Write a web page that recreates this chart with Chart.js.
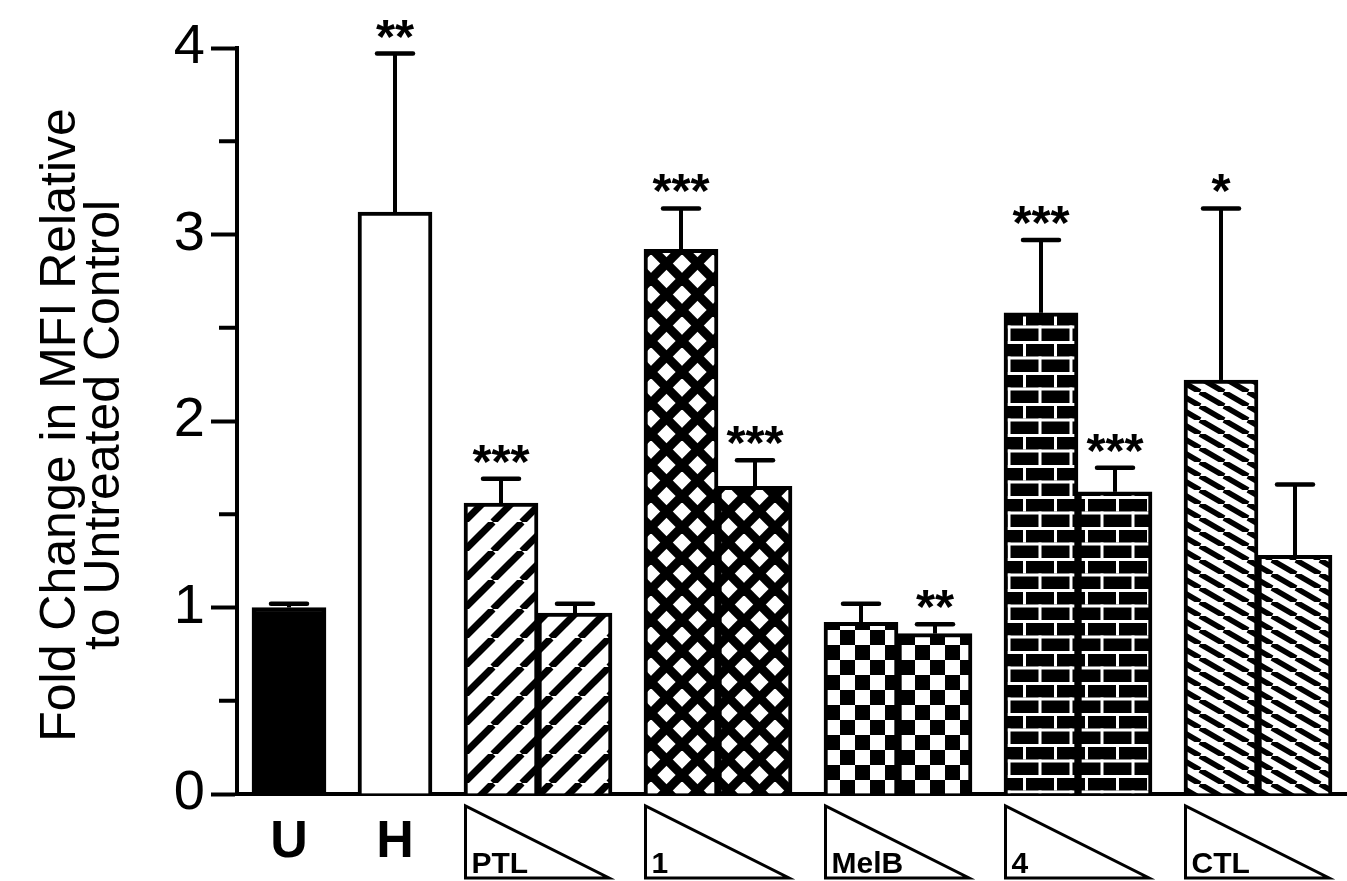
<!DOCTYPE html>
<html>
<head>
<meta charset="utf-8">
<script src="https://cdn.jsdelivr.net/npm/chart.js@4.4.1/dist/chart.umd.min.js"></script>
<style>
  html, body { margin: 0; padding: 0; background: #fff; }
  #wrap { width: 1347px; height: 881px; position: relative; }
</style>
</head>
<body>
<div id="wrap"><canvas id="c"></canvas></div>
<script>
// ---- data ----
const groupLabels  = ['U', 'H', 'PTL', '1', 'MelB', '4', 'CTL'];
const barsPerGroup = [1, 1, 2, 2, 2, 2, 2];               // high dose, low dose
const foldChange   = [1.00, 3.12, 1.56, 0.97, 2.92, 1.65, 0.92, 0.86, 2.58, 1.62, 2.22, 1.28];
const errorUpper   = [0.02, 0.85, 0.13, 0.05, 0.22, 0.14, 0.10, 0.05, 0.39, 0.13, 0.92, 0.38];
const significance = ['', '**', '***', '', '***', '***', '', '**', '***', '***', '*', ''];
const yAxisTitle   = ['Fold Change in MFI Relative', 'to Untreated Control'];

// ---- layout helpers ----
const FONT = "'Liberation Sans', Arial, Helvetica, sans-serif";
const BAR_PX = 74;          // bar width in pixels
const GAP = 32 / 74;        // gap between groups, in bar widths
const AXIS_LEFT = 237;      // y axis position in pixels

const barX = [], barGroup = [], groupSpan = [];
let cursor = 0;
barsPerGroup.forEach((n, g) => {
  const start = cursor;
  for (let k = 0; k < n; k++) { barX.push(cursor + 0.5); barGroup.push(g); cursor += 1; }
  groupSpan.push([start, cursor]);
  cursor += GAP;
});
const xMin = -(252 - AXIS_LEFT) / BAR_PX;
const xMax = xMin + (1347 - AXIS_LEFT) / BAR_PX;

// ---- fill patterns ----
const mainCtx = document.getElementById('c').getContext('2d');
function tile(w, h, draw) {
  const c = document.createElement('canvas');
  c.width = w; c.height = h;
  const t = c.getContext('2d');
  draw(t, w, h);
  return mainCtx.createPattern(c, 'repeat');
}
const stripesUp = tile(29, 29, (t, w, h) => {
  t.fillStyle = '#fff'; t.fillRect(0, 0, w, h);
  t.strokeStyle = '#000'; t.lineWidth = 7;
  for (const o of [-w, 0, w]) { t.beginPath(); t.moveTo(o, h); t.lineTo(o + w, 0); t.stroke(); }
});
const crossHatch = tile(31, 31, (t, w, h) => {
  t.fillStyle = '#fff'; t.fillRect(0, 0, w, h);
  t.strokeStyle = '#000'; t.lineWidth = 9;
  for (const o of [-w, 0, w]) {
    t.beginPath(); t.moveTo(o, 0); t.lineTo(o + w, h); t.stroke();
    t.beginPath(); t.moveTo(o, h); t.lineTo(o + w, 0); t.stroke();
  }
});
const checker = tile(30, 30, (t) => {
  t.fillStyle = '#fff'; t.fillRect(0, 0, 30, 30);
  t.fillStyle = '#000'; t.fillRect(0, 0, 15, 15); t.fillRect(15, 15, 15, 15);
});
const bricks = tile(31, 31, (t) => {
  t.fillStyle = '#000'; t.fillRect(0, 0, 31, 31);
  t.fillStyle = '#fff';
  t.fillRect(0, 0, 31, 3);
  t.fillRect(0, 15.5, 31, 3);
  t.fillRect(0, 0, 3, 15.5);
  t.fillRect(15.5, 15.5, 3, 15.5);
});
const stripesDown = tile(24, 14, (t, w, h) => {
  t.fillStyle = '#fff'; t.fillRect(0, 0, w, h);
  t.strokeStyle = '#000'; t.lineWidth = 5.5;
  for (const o of [-w, 0, w]) { t.beginPath(); t.moveTo(o, 0); t.lineTo(o + w, h); t.stroke(); }
});
const groupFill = ['#000', '#fff', stripesUp, crossHatch, checker, bricks, stripesDown];

// ---- annotations: error bars, stars, axis title, minor ticks, group labels ----
const annotations = {
  id: 'annotations',
  afterDraw(chart) {
    const { ctx, chartArea, scales: { x, y } } = chart;
    ctx.save();
    ctx.strokeStyle = '#000';
    ctx.fillStyle = '#000';

    // minor ticks
    ctx.lineWidth = 4;
    y.ticks.forEach(t => {
      if (!Number.isInteger(t.value)) {
        const py = y.getPixelForValue(t.value);
        ctx.beginPath(); ctx.moveTo(chartArea.left - 18, py); ctx.lineTo(chartArea.left, py); ctx.stroke();
      }
    });

    // error bars and significance stars
    const meta = chart.getDatasetMeta(0);
    meta.data.forEach((bar, i) => {
      const cx = bar.x;
      const topY = bar.y;
      const capY = y.getPixelForValue(foldChange[i] + errorUpper[i]);
      ctx.lineWidth = 4;
      ctx.lineCap = 'butt';
      ctx.beginPath(); ctx.moveTo(cx, topY); ctx.lineTo(cx, capY); ctx.stroke();
      ctx.lineCap = 'round';
      ctx.lineWidth = 4.5;
      ctx.beginPath(); ctx.moveTo(cx - 18, capY); ctx.lineTo(cx + 18, capY); ctx.stroke();
      if (significance[i]) {
        ctx.font = `bold 49px ${FONT}`;
        ctx.textAlign = 'center';
        ctx.textBaseline = 'alphabetic';
        ctx.fillText(significance[i], cx, capY - 1);
      }
    });

    // y axis title
    ctx.font = `50px ${FONT}`;
    ctx.textAlign = 'center';
    ctx.textBaseline = 'alphabetic';
    const yc = (chartArea.top + chartArea.bottom) / 2 + 4;
    [75, 119].forEach((bx, k) => {
      ctx.save();
      ctx.translate(bx, yc);
      ctx.rotate(-Math.PI / 2);
      ctx.fillText(yAxisTitle[k], 0, 0);
      ctx.restore();
    });

    // group labels under the axis
    ctx.lineCap = 'butt';
    ctx.lineJoin = 'miter';
    groupLabels.forEach((label, g) => {
      const left = x.getPixelForValue(groupSpan[g][0]);
      const right = x.getPixelForValue(groupSpan[g][1]);
      if (barsPerGroup[g] === 1) {
        ctx.font = `bold 52px ${FONT}`;
        ctx.textAlign = 'center';
        ctx.fillText(label, (left + right) / 2, 857);
      } else {
        const l = left + 1.5, r = right - 3, t = 806, b = 878;
        ctx.lineWidth = 3;
        ctx.beginPath();
        ctx.moveTo(l, t); ctx.lineTo(l, b); ctx.lineTo(r, b); ctx.closePath();
        ctx.stroke();
        ctx.font = `bold 30px ${FONT}`;
        ctx.textAlign = 'left';
        ctx.fillText(label, l + 6, 873);
      }
    });
    ctx.restore();
  }
};

new Chart(mainCtx, {
  type: 'bar',
  data: {
    datasets: [{
      data: foldChange.map((v, i) => ({ x: barX[i], y: v })),
      backgroundColor: barGroup.map(g => groupFill[g]),
      borderColor: '#000',
      borderWidth: 4,
      borderSkipped: 'start',
      barThickness: BAR_PX
    }]
  },
  options: {
    responsive: true,
    maintainAspectRatio: false,
    animation: false,
    events: [],
    layout: { padding: { top: 48, left: 0, right: 0, bottom: 0 } },
    plugins: { legend: { display: false }, tooltip: { enabled: false } },
    scales: {
      x: {
        type: 'linear',
        offset: false,
        min: xMin,
        max: xMax,
        grid: { display: false, offset: false },
        ticks: { display: false },
        border: { display: true, width: 4, color: '#000' },
        afterFit(s) { s.height = 87; }
      },
      y: {
        min: 0,
        max: 4,
        ticks: {
          stepSize: 0.5,
          callback: v => Number.isInteger(v) ? String(v) : '',
          font: { family: FONT, size: 56 },
          color: '#000',
          padding: 6
        },
        grid: {
          drawOnChartArea: false,
          tickLength: 26,
          tickWidth: 4,
          tickColor: c => Number.isInteger(c.tick.value) ? '#000' : 'rgba(0,0,0,0)'
        },
        border: { width: 4, color: '#000' },
        afterFit(s) { s.width = AXIS_LEFT; }
      }
    }
  },
  plugins: [annotations]
});
</script>
</body>
</html>
